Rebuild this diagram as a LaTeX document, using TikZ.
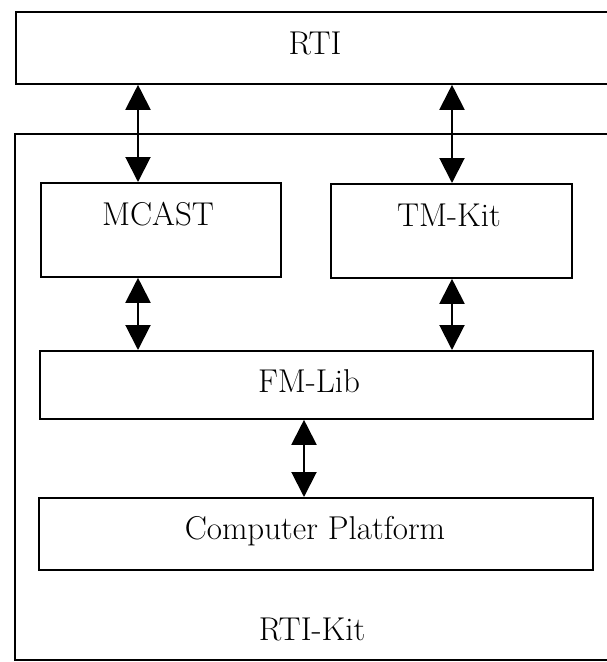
\documentclass[tikz,border=0pt]{standalone}
\usetikzlibrary{arrows.meta}
\begin{document}
\begin{tikzpicture}[x=1pt,y=-1pt,
  box/.style={draw=black, line width=1.8pt, inner sep=0pt, anchor=north west},
  lbl/.style={font=\fontsize{33pt}{40pt}\selectfont, inner sep=0pt, anchor=base},
  dbl/.style={line width=2pt, {Triangle[length=25pt,width=25pt]}-{Triangle[length=25pt,width=25pt]}}]
\useasboundingbox (0,0) rectangle (607,662);
\clip (0,0) rectangle (607,662);
% boxes
\node[box, minimum width=601pt, minimum height=72pt] (rti) at (15,11) {};
\node[box, minimum width=602pt, minimum height=526pt] (kit) at (14,133) {};
\node[box, minimum width=240pt, minimum height=94pt] (mcast) at (40,182) {};
\node[box, minimum width=241pt, minimum height=94pt] (tmkit) at (330,183) {};
\node[box, minimum width=553pt, minimum height=68pt] (fmlib) at (39,350) {};
\node[box, minimum width=554pt, minimum height=72pt] (cp) at (38,497) {};
% labels
\node[lbl] (rtit) at (315,54) {RTI};
\node[lbl] (mcastt) at (158,225) {MCAST};
\node[lbl] (tmkitt) at (449,226) {TM-Kit};
\node[lbl] (fmlibt) at (309,392) {FM-Lib};
\node[lbl] (cpt) at (315,539) {Computer Platform};
\node[lbl] (kitt) at (312,640) {RTI-Kit};
% arrow columns
\coordinate (c1) at (138,0);
\coordinate (c2) at (452,0);
\coordinate (c3) at (304,0);
\draw[dbl] (c1 |- rti.south) -- (c1 |- mcast.north);
\draw[dbl] (c2 |- rti.south) -- (c2 |- tmkit.north);
\draw[dbl] (c1 |- mcast.south) -- (c1 |- fmlib.north);
\draw[dbl] (c2 |- tmkit.south) -- (c2 |- fmlib.north);
\draw[dbl] (c3 |- fmlib.south) -- (c3 |- cp.north);
\end{tikzpicture}
\end{document}
